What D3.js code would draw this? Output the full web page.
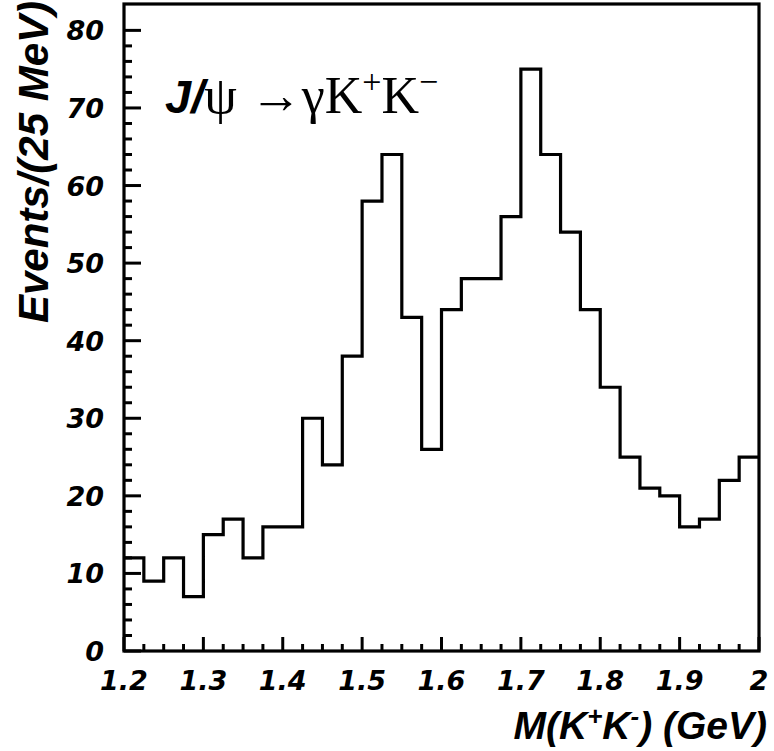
<!DOCTYPE html>
<html>
<head>
<meta charset="utf-8">
<script src="https://cdn.jsdelivr.net/npm/d3@7"></script>
<style>
  html, body { margin: 0; padding: 0; background: #fff; }
  svg { display: block; }
  .sans { font-family: "Liberation Sans", Arial, Helvetica, sans-serif; font-weight: bold; font-style: italic; }
  .tick { font-family: "DejaVu Sans", "Liberation Sans", sans-serif; font-weight: bold; font-style: oblique; }
  .serif { font-family: "Liberation Serif", "Times New Roman", serif; }
</style>
</head>
<body>
<svg id="chart" width="774" height="751"></svg>
<script>
// M(K+K-) histogram, 25 MeV bins from 1.2 to 2.0 GeV
const binLow = 1.2;
const binWidth = 0.025;
const counts = [12, 9, 12, 7, 15, 17, 12, 16, 16, 30, 24, 38, 58, 64, 43, 26,
                44, 48, 48, 56, 75, 64, 54, 44, 34, 25, 21, 20, 16, 17, 22, 25];
const xTickValues = [1.2, 1.3, 1.4, 1.5, 1.6, 1.7, 1.8, 1.9, 2.0];
const xTickLabels = ["1.2", "1.3", "1.4", "1.5", "1.6", "1.7", "1.8", "1.9", "2"];
const yTickValues = [0, 10, 20, 30, 40, 50, 60, 70, 80];
const yTickLabels = ["0", "10", "20", "30", "40", "50", "60", "70", "80"];

const svg = d3.select("#chart");

const frame = { left: 124, right: 759, top: 4, bottom: 651 };
const x = d3.scaleLinear().domain([1.2, 2.0]).range([frame.left, frame.right]);
const y = d3.scaleLinear().domain([0, 83.4]).range([frame.bottom, frame.top]);

const g = svg.append("g");

// histogram outline
const pts = counts.map((c, i) => [binLow + i * binWidth, c]);
pts.push([binLow + counts.length * binWidth, counts[counts.length - 1]]);
const line = d3.line()
  .x(d => x(d[0]))
  .y(d => y(d[1]))
  .curve(d3.curveStepAfter);
g.append("path")
  .attr("d", line(pts))
  .attr("fill", "none")
  .attr("stroke", "#000")
  .attr("stroke-width", 3.2)
  .attr("stroke-linejoin", "miter");

// frame
g.append("rect")
  .attr("x", frame.left).attr("y", frame.top)
  .attr("width", frame.right - frame.left)
  .attr("height", frame.bottom - frame.top)
  .attr("fill", "none").attr("stroke", "#000").attr("stroke-width", 3.2);

// y ticks (inward, on left axis)
const yMinor = d3.range(0, 81, 2);
g.append("g").selectAll("line").data(yMinor).join("line")
  .attr("x1", frame.left)
  .attr("x2", d => frame.left + (d % 10 === 0 ? 17 : 8))
  .attr("y1", d => y(d)).attr("y2", d => y(d))
  .attr("stroke", "#000").attr("stroke-width", 3);

// x ticks (inward, on bottom axis)
const xMinor = d3.range(0, 33).map(i => 1.2 + i * 0.025);
g.append("g").selectAll("line").data(xMinor).join("line")
  .attr("x1", d => x(d)).attr("x2", d => x(d))
  .attr("y1", frame.bottom)
  .attr("y2", (d, i) => frame.bottom - (i % 4 === 0 ? 14 : 7))
  .attr("stroke", "#000").attr("stroke-width", 3);

// y tick labels
g.append("g").selectAll("text").data(yTickValues).join("text")
  .attr("class", "tick")
  .attr("x", 104)
  .attr("y", d => y(d) + 10)
  .attr("text-anchor", "end")
  .attr("font-size", 27)
  .text((d, i) => yTickLabels[i]);

// x tick labels
g.append("g").selectAll("text").data(xTickValues).join("text")
  .attr("class", "tick")
  .attr("x", d => x(d))
  .attr("y", 690)
  .attr("text-anchor", "middle")
  .attr("font-size", 27)
  .text((d, i) => xTickLabels[i]);

// axis titles
const xt = svg.append("text")
  .attr("class", "sans")
  .attr("x", 767).attr("y", 739)
  .attr("text-anchor", "end")
  .attr("font-size", 39);
xt.append("tspan").text("M(K");
xt.append("tspan").attr("dy", -14).attr("font-size", 26).text("+");
xt.append("tspan").attr("dy", 14).text("K");
xt.append("tspan").attr("dy", -14).attr("font-size", 26).text("-");
xt.append("tspan").attr("dy", 14).text(") (GeV)");

svg.append("text")
  .attr("class", "sans")
  .attr("transform", "translate(48,162) rotate(-90)")
  .attr("text-anchor", "middle")
  .attr("font-size", 42)
  .text("Events/(25 MeV)");

// reaction label
const rt = svg.append("text")
  .attr("x", 165).attr("y", 113)
  .attr("font-size", 52);
rt.append("tspan").attr("class", "sans").attr("font-size", 47).text("J/");
rt.append("tspan").attr("class", "serif").text("\u03C8 \u2192\u03B3K");
rt.append("tspan").attr("class", "serif").attr("dy", -20).attr("font-size", 34).text("+");
rt.append("tspan").attr("class", "serif").attr("dy", 20).text("K");
rt.append("tspan").attr("class", "serif").attr("dy", -20).attr("font-size", 34).text("\u2212");
</script>
</body>
</html>
